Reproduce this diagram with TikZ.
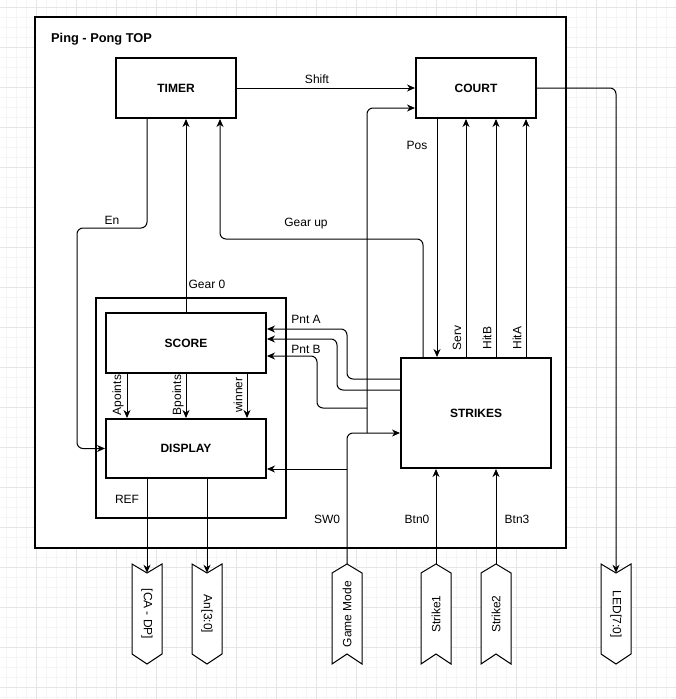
\documentclass[tikz,border=0pt]{standalone}
\usepackage{fontspec}
\setmainfont{Liberation Sans}
\usetikzlibrary{arrows.meta,positioning}
\definecolor{gridmaj}{HTML}{E6E6E6}
\definecolor{gridmin}{HTML}{F5F5F5}

\tikzset{
  blk/.style={draw, line width=2pt, fill=white, minimum width=120pt, minimum height=60pt, font=\fontsize{12}{14}\selectfont\bfseries},
  frame/.style={draw, line width=2pt, fill=white},
  conn/.style={line width=1pt, -{Stealth[length=8pt,width=7pt,inset=2.5pt]}},
  lbl/.style={inner sep=0pt},
  port/.style={draw, line width=1pt, fill=white},
  portlbl/.style={inner sep=0pt, minimum height=30pt},
}

\begin{document}
\begin{tikzpicture}[x=1pt, y=-1pt, font=\fontsize{12}{14}\selectfont]
\useasboundingbox (0,0) rectangle (676,699);
% background grid
\foreach \x in {6,16,...,676} \draw[gridmin, line width=1pt] (\x,0) -- (\x,699);
\foreach \y in {7,17,...,699} \draw[gridmin, line width=1pt] (0,\y) -- (676,\y);
\foreach \x in {36,76,...,676} \draw[gridmaj, line width=1pt] (\x,0) -- (\x,699);
\foreach \y in {7,47,...,699} \draw[gridmaj, line width=1pt] (0,\y) -- (676,\y);

% top level and REF frame
\node[frame, minimum width=531pt, minimum height=531pt] (top) at (300.5,282.5) {};
\node[anchor=west, inner sep=0pt, font=\fontsize{12.8}{15}\selectfont\bfseries] (title) at (51,39) {Ping - Pong TOP};
\node[frame, minimum width=190pt, minimum height=220pt] (ref) at (191,408) {};
\node[lbl] (reflbl) at (127,499) {REF};

% blocks
\node[blk] (timer) at (176,88) {TIMER};
\node[blk] (court) at (476,88) {COURT};
\node[blk, minimum width=160pt] (score) at (186,343) {SCORE};
\node[blk, minimum width=160pt, minimum height=59pt] (display) at (186,448.5) {DISPLAY};
\node[blk, minimum width=150pt, minimum height=110pt] (strikes) at (476,413) {STRIKES};

% ports
\foreach \x in {147,207,616}
  \draw[port] (\x-15,564) -- (\x,573) -- (\x+15,564) -- (\x+15,654) -- (\x,664) -- (\x-15,654) -- cycle;
\foreach \x in {347,436,496}
  \draw[port] (\x-15,573) -- (\x,564) -- (\x+15,573) -- (\x+15,664) -- (\x,654) -- (\x-15,664) -- cycle;
\node[portlbl, minimum width=82pt, rotate=-90] (cadp) at (147,614) {[CA - DP]};
\node[portlbl, minimum width=82pt, rotate=-90] (an) at (207,614) {An[3:0]};
\node[portlbl, minimum width=82pt, rotate=-90] (led) at (616,614) {LED[7:0]};
\node[portlbl, minimum width=100pt, rotate=90] (gmode) at (347,614) {Game Mode};
\node[portlbl, minimum width=100pt, rotate=90] (strike1) at (436,614) {Strike1};
\node[portlbl, minimum width=100pt, rotate=90] (strike2) at (496,614) {Strike2};

% SW0 net
\coordinate (swa) at (347,433);
\coordinate (swb) at (367,433);
\coordinate (swc) at (347,469);
\coordinate (swd) at (367,408);
\draw[conn, rounded corners=6pt] (gmode.east) -- (swa) -- (strikes.west |- swa);
\draw[conn] (swc) -- (display.east |- swc);
\draw[conn, rounded corners=6pt] (swb) |- ([yshift=11pt]court.south west);

% points back to SCORE
\draw[conn, rounded corners=6pt] ([yshift=34pt]strikes.west) -| (347,329) -- ([yshift=14pt]score.east);
\draw[conn, rounded corners=6pt] ([yshift=23pt]strikes.west) -| (337,339) -- ([yshift=4pt]score.east);
\draw[conn, rounded corners=6pt] (swd) -| (317,356) -- ([yshift=-13pt]score.east);

% timer lines
\draw[conn] (timer) -- (court);
\draw[conn] (score.north) -- (score.north |- timer.south);
\draw[conn, rounded corners=6pt] ([xshift=-53pt]strikes.north) |- (220,239) -- ([xshift=44pt]timer.south);
\draw[conn, rounded corners=6pt] ([xshift=-29pt]timer.south) |- (77,228) |- (display.west);
\draw[conn, rounded corners=6pt] (court.east) -| (led.west);

% court <-> strikes
\draw[conn] ([xshift=-39pt]court.south) -- ([xshift=-39pt]strikes.north);
\foreach \dx in {-10,20,50}
  \draw[conn] ([xshift=\dx pt]strikes.north) -- ([xshift=\dx pt]court.south);

% score -> display -> outputs
\foreach \dx in {-59,0,61}
  \draw[conn] ([xshift=\dx pt]score.south) -- ([xshift=\dx pt]display.north);
\draw[conn] (display.south -| cadp.west) -- (cadp.west);
\draw[conn] (display.south -| an.west) -- (an.west);
\draw[conn] (strike1.east) -- (strike1.east |- strikes.south);
\draw[conn] (strike2.east) -- (strike2.east |- strikes.south);

% labels
\node[lbl] (shiftlbl) at (317,79) {Shift};
\node[lbl] (poslbl) at (417,145) {Pos};
\node[lbl] (gearuplbl) at (306,224) {Gear up};
\node[lbl] (enlbl) at (112,220) {En};
\node[lbl] (gear0lbl) at (207,284) {Gear 0};
\node[lbl] (pntalbl) at (306,319) {Pnt A};
\node[lbl] (pntblbl) at (306,349) {Pnt B};
\node[lbl] (sw0lbl) at (327,519) {SW0};
\node[lbl] (btn0lbl) at (417,519) {Btn0};
\node[lbl] (btn3lbl) at (517,519) {Btn3};
\node[lbl, rotate=90] (servlbl) at (457,338) {Serv};
\node[lbl, rotate=90] (hitblbl) at (487,338) {HitB};
\node[lbl, rotate=90] (hitalbl) at (517,338) {HitA};
\node[lbl, rotate=90] (apointslbl) at (118,395) {Apoints};
\node[lbl, rotate=90] (bpointslbl) at (178,395) {Bpoints};
\node[lbl, rotate=90] (winnerlbl) at (238,395) {winner};
\end{tikzpicture}
\end{document}
